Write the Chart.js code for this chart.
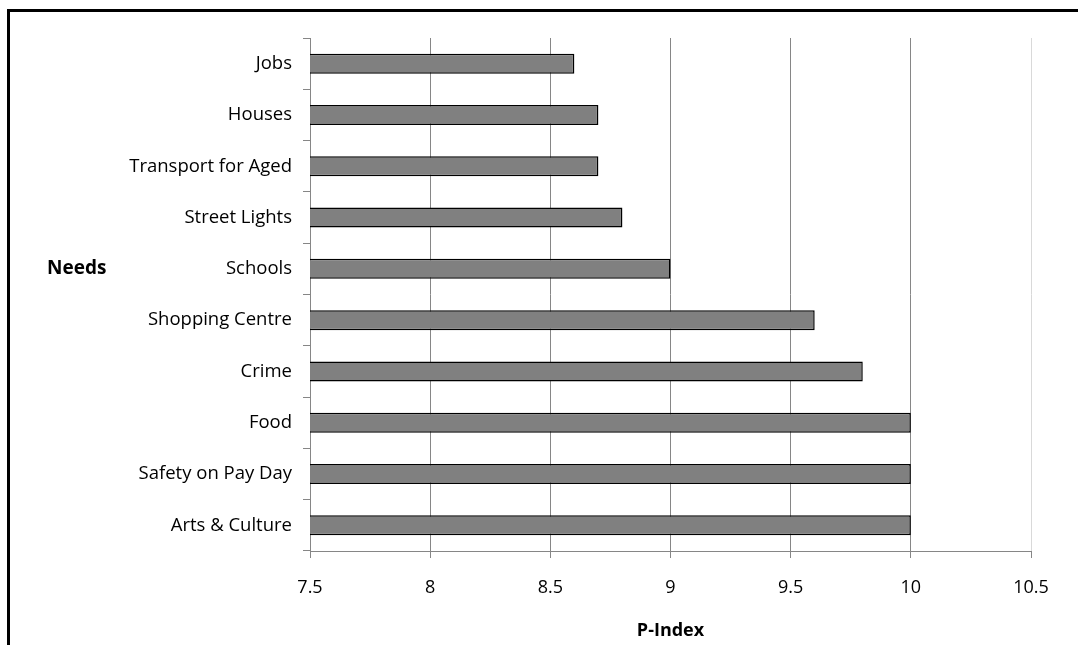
<!DOCTYPE html>
<html lang="en">
<head>
    <meta charset="UTF-8">
    <title>Needs by P-Index</title>
    <script src="https://cdn.jsdelivr.net/npm/chart.js"></script>
    <style>
        html, body { margin: 0; padding: 0; background: #fff; }
        #wrap { position: relative; width: 1078px; height: 645px; overflow: hidden; }
        #frame { position: absolute; left: 7px; top: 9px; width: 1200px; height: 800px;
                 border-top: 3px solid #000; border-left: 3px solid #000; }
        canvas { position: absolute; left: 0; top: 0; }
    </style>
</head>
<body>
    <div id="wrap">
        <div id="frame"></div>
        <canvas id="needsChart" width="1078" height="645"></canvas>
    </div>

    <script>
        const needs = ['Jobs', 'Houses', 'Transport for Aged', 'Street Lights', 'Schools',
                       'Shopping Centre', 'Crime', 'Food', 'Safety on Pay Day', 'Arts & Culture'];
        const pIndex = [8.6, 8.7, 8.7, 8.8, 9.0, 9.6, 9.8, 10, 10, 10];
        const xTicks = [7.5, 8, 8.5, 9, 9.5, 10, 10.5];
        const yTitle = 'Needs';
        const xTitle = 'P-Index';

        const fontFamily = "'Open Sans', 'DejaVu Sans', sans-serif";
        const axisGray = '#868686';

        // y axis title is horizontal in the original, so draw it by hand
        const needsTitle = {
            id: 'needsTitle',
            afterDraw(chart) {
                const ctx = chart.ctx;
                ctx.save();
                ctx.font = 'bold 19px ' + fontFamily;
                ctx.fillStyle = '#000';
                ctx.textAlign = 'left';
                ctx.textBaseline = 'middle';
                ctx.fillText(yTitle, 47, chart.scales.y.getPixelForValue(4));
                ctx.restore();
            }
        };

        new Chart(document.getElementById('needsChart'), {
            type: 'bar',
            data: {
                labels: needs,
                datasets: [{
                    data: pIndex,
                    backgroundColor: '#808080',
                    borderColor: '#000',
                    borderWidth: 1.5,
                    borderSkipped: false,
                    categoryPercentage: 1,
                    barPercentage: 0.39
                }]
            },
            options: {
                indexAxis: 'y',
                responsive: false,
                animation: false,
                layout: { padding: { top: 38, right: 47, left: 0, bottom: 0 } },
                plugins: {
                    legend: { display: false },
                    tooltip: { enabled: false }
                },
                scales: {
                    x: {
                        min: 7.5,
                        max: 10.5,
                        afterBuildTicks: (scale) => { scale.ticks = xTicks.map(v => ({ value: v })); },
                        afterFit: (scale) => { scale.height = 94; },
                        border: { color: axisGray, width: 1 },
                        grid: {
                            color: (c) => c.tick && c.tick.value === 10.5 ? '#d9d9d9' : axisGray,
                            tickColor: axisGray,
                            tickLength: 7
                        },
                        ticks: {
                            color: '#000',
                            padding: 19,
                            font: { family: fontFamily, size: 18 },
                            callback: (v) => String(v)
                        },
                        title: {
                            display: true,
                            text: xTitle,
                            color: '#000',
                            font: { family: fontFamily, size: 18, weight: 'bold' },
                            padding: { top: 3, bottom: 3 }
                        }
                    },
                    y: {
                        afterFit: (scale) => { scale.width = 310; },
                        border: { color: axisGray, width: 1 },
                        grid: {
                            offset: true,
                            drawOnChartArea: false,
                            color: axisGray,
                            tickLength: 7
                        },
                        ticks: {
                            color: '#000',
                            padding: 11,
                            font: { family: fontFamily, size: 18.5 }
                        }
                    }
                }
            },
            plugins: [needsTitle]
        });
    </script>
</body>
</html>
